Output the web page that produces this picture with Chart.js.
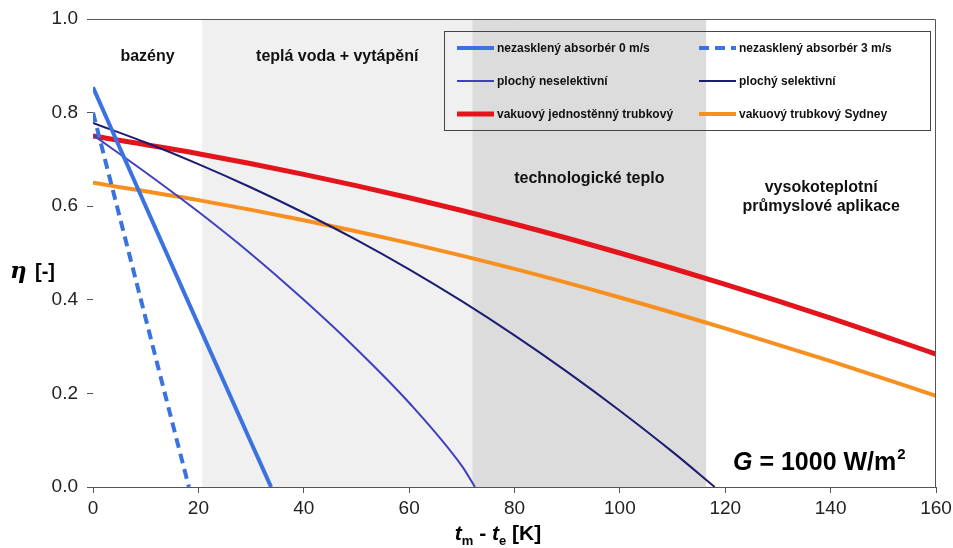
<!DOCTYPE html>
<html>
<head>
<meta charset="utf-8">
<script src="https://cdn.jsdelivr.net/npm/chart.js@4.4.1/dist/chart.umd.min.js"></script>
<style>
  html, body { margin: 0; padding: 0; background: #fff; }
  #wrap { width: 953px; height: 548px; position: relative; }
</style>
</head>
<body>
<div id="wrap"><canvas id="chart"></canvas></div>
<script>
// collector efficiency vs. temperature difference tm - te, G = 1000 W/m2
const dtUnglazed0 = [0, 10, 20, 30, 33.8]
const etaUnglazed0 = [0.854, 0.60, 0.347, 0.095, 0]
const dtUnglazed3 = [0, 5, 10, 15, 18.2]
const etaUnglazed3 = [0.80, 0.58, 0.36, 0.14, 0]
const dtFlatNonSel = [0, 10, 20, 30, 40, 50, 60, 70, 72.5]
const etaFlatNonSel = [0.752, 0.672, 0.588, 0.498, 0.40, 0.295, 0.18, 0.045, 0]
const dtFlatSel = [0, 10, 20, 30, 40, 50, 60, 70, 80, 90, 100, 110, 118]
const etaFlatSel = [0.778, 0.736, 0.69, 0.64, 0.586, 0.528, 0.465, 0.397, 0.324, 0.246, 0.163, 0.075, 0]
const dtTube = [0, 20, 40, 60, 80, 100, 120, 140, 160]
const etaTubeSingle = [0.75, 0.712, 0.668, 0.618, 0.562, 0.50, 0.433, 0.361, 0.284]
const etaTubeSydney = [0.65, 0.613, 0.57, 0.521, 0.466, 0.405, 0.339, 0.269, 0.195]

const xTicks = [0, 20, 40, 60, 80, 100, 120, 140, 160]
const yTicks = [0.0, 0.2, 0.4, 0.6, 0.8, 1.0]

// application ranges along the x axis
const zoneEdges = [0, 20.7, 72, 116.4, 160]
const zoneNames = [["bazény"], ["teplá voda + vytápění"], ["technologické teplo"], ["vysokoteplotní", "průmyslové aplikace"]]

const pts = (xs, ys) => xs.map((x, i) => ({ x, y: ys[i] }))

const zonePlugin = {
  id: "zones",
  beforeDatasetsDraw(chart) {
    const { ctx, chartArea: a, scales: { x } } = chart
    const fills = ["#ffffff", "#f0f0f0", "#dcdcdc", "#ffffff"]
    ctx.save()
    for (let i = 0; i < zoneNames.length; i++) {
      const l = x.getPixelForValue(zoneEdges[i])
      const r = x.getPixelForValue(zoneEdges[i + 1])
      ctx.fillStyle = fills[i]
      ctx.fillRect(l, a.top, r - l, a.bottom - a.top)
    }
    // zone captions
    ctx.fillStyle = "#111"
    ctx.font = "bold 16px 'Liberation Sans', Arial, sans-serif"
    ctx.textAlign = "center"
    ctx.textBaseline = "middle"
    const tops = [57, 57, 179, 188]
    zoneNames.forEach((lines, i) => {
      const cx = (x.getPixelForValue(zoneEdges[i]) + x.getPixelForValue(zoneEdges[i + 1])) / 2
      lines.forEach((t, j) => ctx.fillText(t, cx, tops[i] + j * 19))
    })
    ctx.restore()
  },
  afterDraw(chart) {
    const { ctx, chartArea: a } = chart
    ctx.save()
    // box around the plot
    ctx.strokeStyle = "#555"
    ctx.lineWidth = 1
    ctx.beginPath()
    ctx.moveTo(a.left, a.top + 0.5)
    ctx.lineTo(a.right - 0.5, a.top + 0.5)
    ctx.lineTo(a.right - 0.5, a.bottom)
    ctx.stroke()

    // legend, two columns
    ctx.strokeStyle = "#444"
    ctx.strokeRect(444.5, 31.5, 486, 99)
    ctx.font = "bold 12px 'Liberation Sans', Arial, sans-serif"
    ctx.textAlign = "left"
    ctx.textBaseline = "middle"
    chart.data.datasets.forEach((ds, i) => {
      const col = i % 2, row = Math.floor(i / 2)
      const x0 = col ? 699 : 457
      const y0 = 48 + row * 33
      ctx.strokeStyle = ds.borderColor
      ctx.lineWidth = ds.borderWidth
      ctx.setLineDash(ds.borderDash || [])
      ctx.beginPath()
      ctx.moveTo(x0, y0)
      ctx.lineTo(x0 + 37, y0)
      ctx.stroke()
      ctx.setLineDash([])
      ctx.fillStyle = "#111"
      ctx.fillText(ds.label, x0 + 40, y0 + 1)
    })

    // irradiance note
    ctx.fillStyle = "#000"
    ctx.textBaseline = "alphabetic"
    let gx = 733
    ctx.font = "bold italic 25px 'Liberation Sans', Arial, sans-serif"
    ctx.fillText("G", gx, 470)
    gx += ctx.measureText("G").width
    ctx.font = "bold 25px 'Liberation Sans', Arial, sans-serif"
    ctx.fillText(" = 1000 W/m", gx, 470)
    gx += ctx.measureText(" = 1000 W/m").width
    ctx.font = "bold 15px 'Liberation Sans', Arial, sans-serif"
    ctx.fillText("2", gx + 1, 459)

    // axis titles
    ctx.font = "bold italic 23px 'DejaVu Serif', serif"
    ctx.fillText("η", 10, 278)
    ctx.font = "bold 20px 'Liberation Sans', Arial, sans-serif"
    ctx.fillText("[-]", 35, 278)

    const parts = [
      ["t", "bold italic 21px 'Liberation Sans', Arial, sans-serif", 0],
      ["m", "bold 13px 'Liberation Sans', Arial, sans-serif", 5],
      [" - ", "bold 21px 'Liberation Sans', Arial, sans-serif", 0],
      ["t", "bold italic 21px 'Liberation Sans', Arial, sans-serif", 0],
      ["e", "bold 13px 'Liberation Sans', Arial, sans-serif", 5],
      [" [K]", "bold 21px 'Liberation Sans', Arial, sans-serif", 0]
    ]
    let w = 0
    parts.forEach(([t, f]) => { ctx.font = f; w += ctx.measureText(t).width })
    let tx = 498 - w / 2
    parts.forEach(([t, f, dy]) => {
      ctx.font = f
      ctx.fillText(t, tx, 540 + dy)
      tx += ctx.measureText(t).width
    })
    ctx.restore()
  }
}

new Chart(document.getElementById("chart"), {
  type: "line",
  data: {
    datasets: [
      { label: "nezasklený absorbér 0 m/s", data: pts(dtUnglazed0, etaUnglazed0), borderColor: "#3a72e0", borderWidth: 4 },
      { label: "nezasklený absorbér 3 m/s", data: pts(dtUnglazed3, etaUnglazed3), borderColor: "#3a72e0", borderWidth: 4, borderDash: [10, 6] },
      { label: "plochý neselektivní", data: pts(dtFlatNonSel, etaFlatNonSel), borderColor: "#3f3fbf", borderWidth: 2 },
      { label: "plochý selektivní", data: pts(dtFlatSel, etaFlatSel), borderColor: "#1c1c72", borderWidth: 2 },
      { label: "vakuový jednostěnný trubkový", data: pts(dtTube, etaTubeSingle), borderColor: "#e3141b", borderWidth: 5 },
      { label: "vakuový trubkový Sydney", data: pts(dtTube, etaTubeSydney), borderColor: "#f7901e", borderWidth: 4 }
    ]
  },
  options: {
    responsive: true,
    maintainAspectRatio: false,
    animation: false,
    layout: { padding: { left: 0, top: 19, right: 17, bottom: 0 } },
    elements: { point: { radius: 0 }, line: { cubicInterpolationMode: "monotone", fill: false } },
    plugins: { legend: { display: false }, tooltip: { enabled: false } },
    scales: {
      x: {
        type: "linear", min: 0, max: 160,
        afterBuildTicks: s => { s.ticks = xTicks.map(v => ({ value: v })) },
        afterFit: s => { s.height = 61; s.paddingLeft = 0; s.paddingRight = 0 },
        grid: { drawOnChartArea: false, tickLength: 6, color: "#555" },
        border: { color: "#555" },
        ticks: { color: "#222", padding: 4, font: { family: "'Liberation Sans', Arial", size: 19 } }
      },
      y: {
        type: "linear", min: 0, max: 1,
        afterBuildTicks: s => { s.ticks = yTicks.map(v => ({ value: v })) },
        afterFit: s => { s.width = 93; s.paddingTop = 0; s.paddingBottom = 0 },
        grid: { drawOnChartArea: false, tickLength: 6, color: "#555" },
        border: { color: "#555" },
        ticks: { color: "#222", padding: 9, callback: v => v.toFixed(1), font: { family: "'Liberation Sans', Arial", size: 19 } }
      }
    }
  },
  plugins: [zonePlugin]
})
</script>
</body>
</html>
